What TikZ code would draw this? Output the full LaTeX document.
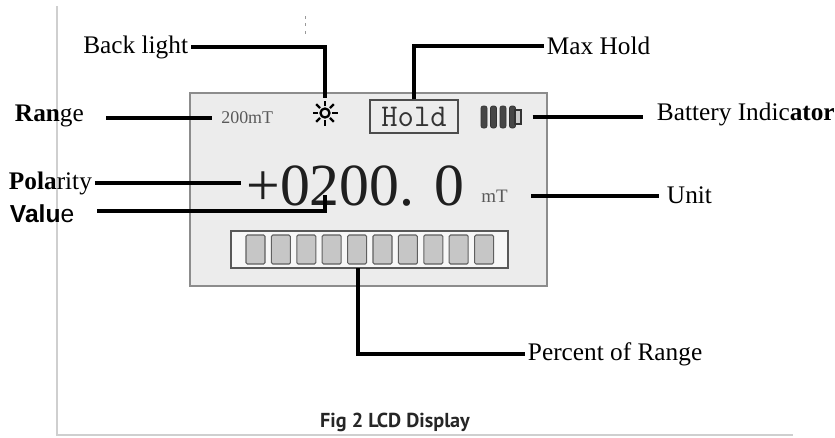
\documentclass[tikz,border=0pt]{standalone}
\usepackage{fontspec}
\setmainfont{Liberation Serif}
\newfontfamily\valuefont{Liberation Sans}
\newfontfamily\captionfont{PT Sans}
\definecolor{lcdgray}{HTML}{ECECEC}
\definecolor{framegray}{HTML}{CFCFCF}

\begin{document}
\begin{tikzpicture}[x=0.02cm, y=-0.02cm]
        %style
        \tikzset{tag/.style = {inner sep=1.5pt, font=\fontsize{14.4}{17}\selectfont}}
        \tikzset{lead/.style = {line width=2.1pt, black}}
        \tikzset{lcd/.style = {fill=lcdgray, draw=gray!90, line width=0.8pt}}
        \tikzset{barframe/.style = {fill=gray!6, draw=gray!70!black, line width=0.7pt}}
        \tikzset{seg/.style = {fill=gray!45, draw=gray!75!black, line width=0.6pt, rounded corners=0.8pt}}
        \tikzset{battbar/.style = {fill=gray!55!black, draw=gray!40!black, line width=0.4pt, rounded corners=1.2pt}}
        \tikzset{holdbox/.style = {draw=gray!60!black, line width=0.7pt, minimum width=50pt, minimum height=18.7pt, inner sep=0, font=\ttfamily\fontsize{18}{20}\selectfont, text=black!80}}
        \useasboundingbox (0,0) rectangle (835,437);
        % frame of the page
        \draw[framegray, line width=0.9pt] (57,6) -- (57,435) -- (793,435);
        \foreach \y in {16,23,31} \fill[gray!80] (304.5,\y) rectangle ++(1.6,2.6);
        % display
        \draw[lcd] (190,93) rectangle (547,286);
        \node[anchor=west, inner sep=0, font=\fontsize{10.2}{12}\selectfont, text=black!65] (r200) at (221,118) {200mT};
        \node[circle, inner sep=0, minimum size=17pt] (sun) at (325,113) {};
        \draw[line width=1.3pt] (sun.center) circle [radius=4.5];
        \foreach \a in {0,45,...,315} \draw[line width=1.3pt] (sun.center) ++(\a:7) -- ++(\a:5.5);
        \node[holdbox] (hold) at (414,116.5) {Hold};
        \node[inner sep=0, minimum width=22.7pt, minimum height=13pt] (batt) at (501,117) {};
        \foreach \i in {0,...,3} \draw[battbar] (481+9.5*\i,106) rectangle ++(6,22);
        \draw[gray!40!black, line width=0.6pt, fill=gray!40] (515,110) rectangle (521,124);
        \node[anchor=base west, inner sep=0, font=\fontsize{34}{40}\selectfont, text=black!88] (reading) at (246,205) {+0200. 0};
        \node[anchor=west, inner sep=0, font=\fontsize{10.8}{12}\selectfont, text=black!65] (mt) at (481,196) {mT};
        \draw[barframe] (231,231) rectangle (508,268);
        \foreach \i in {0,...,9} \draw[seg] (246+25.4*\i,235) rectangle ++(19,29);
        % labels
        \node[tag, anchor=east] (backlight) at (191,47) {Back light};
        \node[tag, anchor=west] (maxhold) at (544,46) {Max Hold};
        \node[tag, anchor=west] (range) at (12,116) {\textbf{Ran}ge};
        \node[tag, anchor=west] (battery) at (654,114) {Battery Indic\textbf{ator}};
        \node[tag, anchor=west] (polarity) at (6,183) {\textbf{Pola}rity};
        \node[tag, anchor=west, font=\valuefont\fontsize{14}{17}\selectfont] (value) at (7,214) {\textbf{Valu}e};
        \node[tag, anchor=west] (unit) at (664,195) {Unit};
        \node[tag, anchor=west] (percent) at (525,354) {Percent of Range};
        \node[font=\captionfont\bfseries\fontsize{11.5}{13}\selectfont, text=black!85] (caption) at (395,422) {Fig 2 LCD Display};
        % leads
        \coordinate (rangeA) at (106,118);
        \coordinate (valueA) at (97,211);
        \coordinate (valueB) at (325,195);
        \coordinate (unitA) at (531,196);
        \coordinate (percentA) at (358,268);
        \draw[lead] (backlight.east) -| (sun.north);
        \draw[lead] (hold.north) |- (maxhold.west);
        \draw[lead, shorten >=5pt] (rangeA) -- (rangeA -| r200.west);
        \draw[lead, shorten <=6.5pt, shorten >=6pt] (batt.east) -- (batt.east -| battery.west);
        \draw[lead, shorten >=3pt] (polarity.east) -- (polarity.east -| reading.west);
        \draw[lead] (valueA) -| (valueB);
        \draw[lead, shorten >=3pt] (unitA) -- (unitA -| unit.west);
        \draw[lead] (percentA) |- (percent.west);
\end{tikzpicture}
\end{document}
